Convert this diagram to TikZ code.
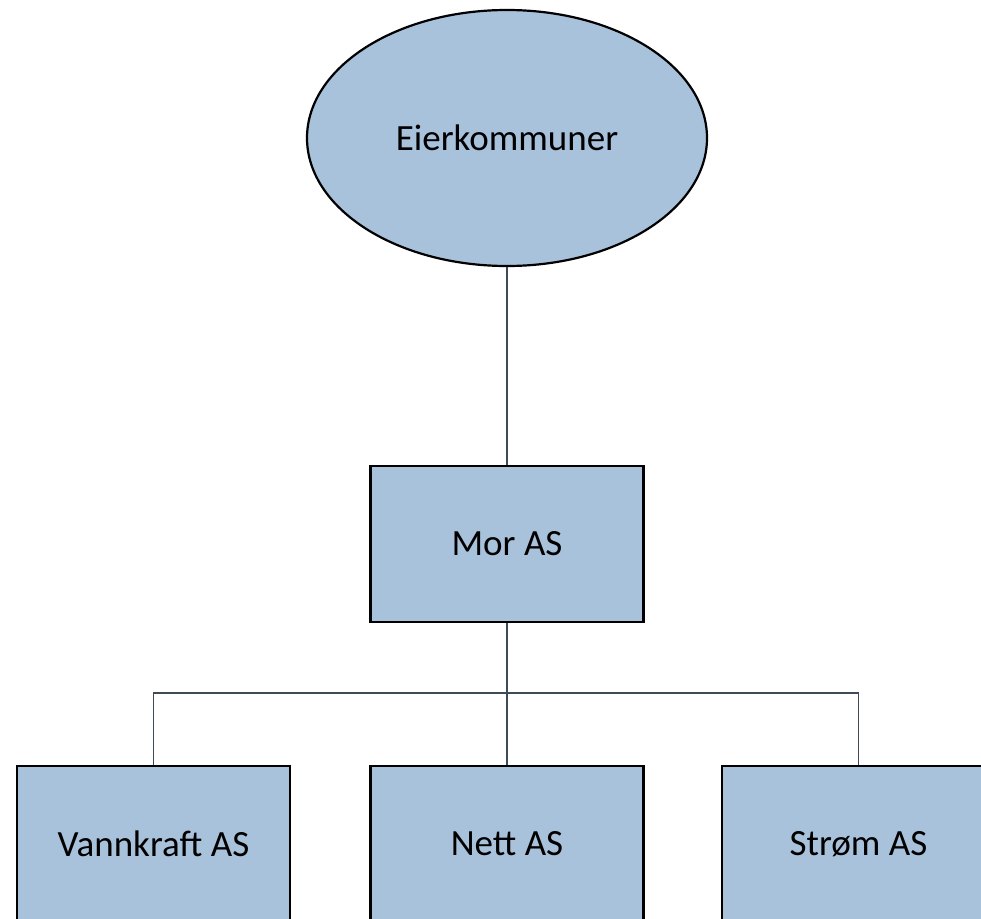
\documentclass[tikz,border=0pt]{standalone}
\usepackage{fontspec}
\setmainfont{Carlito}
\usetikzlibrary{shapes.geometric}
\definecolor{boxfill}{HTML}{A9C2DC}
\definecolor{linecol}{HTML}{3E4A56}
\tikzset{
  unitbox/.style={draw=black, line width=2.2pt, fill=boxfill, minimum width=273pt, minimum height=156pt, inner sep=0pt, font=\fontsize{37}{44}\selectfont},
  ownerell/.style={ellipse, draw=black, line width=2.2pt, fill=boxfill, minimum width=400pt, minimum height=256pt, inner sep=0pt, font=\fontsize{37}{44}\selectfont},
  conn/.style={draw=linecol, line width=1.8pt}
}
\begin{document}
\begin{tikzpicture}[x=1pt,y=-1pt]
\useasboundingbox (0,0) rectangle (981,918);
\clip (0,0) rectangle (981,918);
\node[ownerell] (eier) at (507,138) {Eierkommuner};
\node[unitbox] (mor) at (507,544) {Mor AS};
\node[unitbox] (vann) at (153.5,844) {Vannkraft AS};
\node[unitbox] (nett) at (507,844) {Nett AS};
\node[unitbox] (strom) at (858.5,844) {Strøm AS};
\coordinate (bus) at (507,693);
\draw[conn] (eier.south) -- (mor.north);
\draw[conn] (mor.south) -- (nett.north);
\draw[conn] (vann.north) |- (bus);
\draw[conn] (strom.north) |- (bus);
\end{tikzpicture}
\end{document}
